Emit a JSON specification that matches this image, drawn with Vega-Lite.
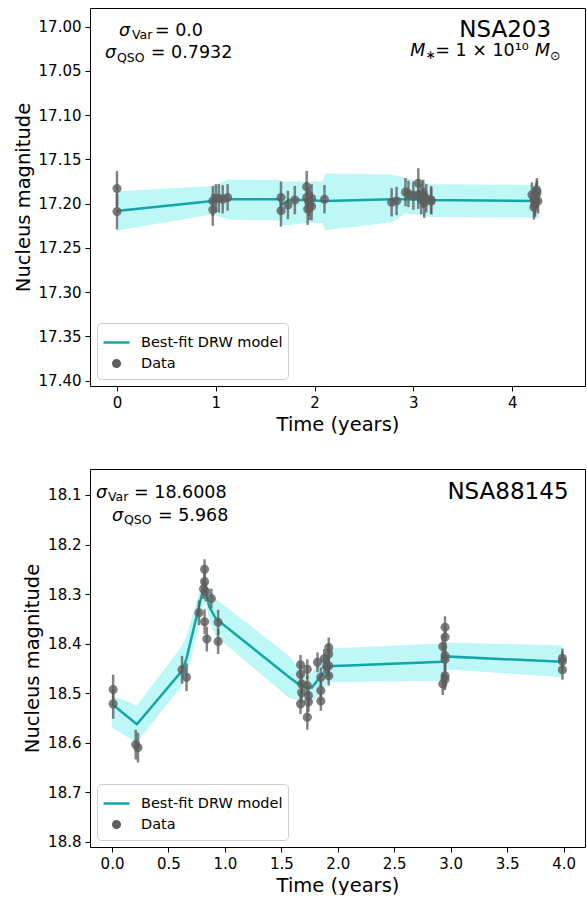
{
  "$schema": "https://vega.github.io/schema/vega-lite/v6.json",
  "padding": {"left": 12, "top": 7, "right": 1, "bottom": 0},
  "background": "white",
  "config": {
    "view": {"stroke": "black", "strokeWidth": 1},
    "axis": {"domain": false, "grid": false, "tickColor": "black", "tickSize": 5, "tickWidth": 1, "labelFont": "DejaVu Sans", "labelFontSize": 15, "labelColor": "black", "labelPadding": 4, "titleFont": "DejaVu Sans", "titleFontSize": 19.5, "titleFontWeight": "normal", "titleColor": "black", "titlePadding": 5},
    "legend": {"orient": "bottom-left", "offset": 7, "title": null, "fillColor": "rgba(255,255,255,0.8)", "strokeColor": "#cccccc", "cornerRadius": 4, "padding": 5, "labelFont": "DejaVu Sans", "labelFontSize": 14.5, "labelColor": "black", "symbolSize": 676, "symbolStrokeWidth": 2.5, "rowPadding": 0, "labelOffset": 10},
    "text": {"font": "DejaVu Sans", "color": "black", "baseline": "alphabetic", "align": "left"}
  },
  "datasets": {
    "top_obs": [
      {"t": 0.00, "mag": 17.183, "lo": 17.163, "hi": 17.203, "series": "Data"},
      {"t": 0.00, "mag": 17.209, "lo": 17.189, "hi": 17.229, "series": "Data"},
      {"t": 0.97, "mag": 17.207, "lo": 17.189, "hi": 17.225, "series": "Data"},
      {"t": 0.97, "mag": 17.197, "lo": 17.180, "hi": 17.214, "series": "Data"},
      {"t": 1.00, "mag": 17.194, "lo": 17.178, "hi": 17.210, "series": "Data"},
      {"t": 1.03, "mag": 17.194, "lo": 17.178, "hi": 17.210, "series": "Data"},
      {"t": 1.07, "mag": 17.195, "lo": 17.179, "hi": 17.211, "series": "Data"},
      {"t": 1.12, "mag": 17.193, "lo": 17.178, "hi": 17.208, "series": "Data"},
      {"t": 1.66, "mag": 17.193, "lo": 17.175, "hi": 17.211, "series": "Data"},
      {"t": 1.66, "mag": 17.208, "lo": 17.190, "hi": 17.226, "series": "Data"},
      {"t": 1.73, "mag": 17.2015, "lo": 17.1855, "hi": 17.2175, "series": "Data"},
      {"t": 1.80, "mag": 17.196, "lo": 17.180, "hi": 17.212, "series": "Data"},
      {"t": 1.92, "mag": 17.181, "lo": 17.163, "hi": 17.199, "series": "Data"},
      {"t": 1.92, "mag": 17.193, "lo": 17.176, "hi": 17.210, "series": "Data"},
      {"t": 1.94, "mag": 17.198, "lo": 17.182, "hi": 17.214, "series": "Data"},
      {"t": 1.95, "mag": 17.2015, "lo": 17.1845, "hi": 17.2185, "series": "Data"},
      {"t": 1.93, "mag": 17.206, "lo": 17.188, "hi": 17.224, "series": "Data"},
      {"t": 1.97, "mag": 17.194, "lo": 17.178, "hi": 17.210, "series": "Data"},
      {"t": 1.97, "mag": 17.203, "lo": 17.187, "hi": 17.219, "series": "Data"},
      {"t": 2.10, "mag": 17.195, "lo": 17.179, "hi": 17.211, "series": "Data"},
      {"t": 2.78, "mag": 17.1985, "lo": 17.1825, "hi": 17.2145, "series": "Data"},
      {"t": 2.83, "mag": 17.197, "lo": 17.181, "hi": 17.213, "series": "Data"},
      {"t": 2.92, "mag": 17.187, "lo": 17.171, "hi": 17.203, "series": "Data"},
      {"t": 2.95, "mag": 17.189, "lo": 17.174, "hi": 17.204, "series": "Data"},
      {"t": 3.00, "mag": 17.191, "lo": 17.175, "hi": 17.207, "series": "Data"},
      {"t": 3.05, "mag": 17.177, "lo": 17.160, "hi": 17.194, "series": "Data"},
      {"t": 3.05, "mag": 17.190, "lo": 17.174, "hi": 17.206, "series": "Data"},
      {"t": 3.08, "mag": 17.195, "lo": 17.178, "hi": 17.212, "series": "Data"},
      {"t": 3.10, "mag": 17.189, "lo": 17.173, "hi": 17.205, "series": "Data"},
      {"t": 3.11, "mag": 17.199, "lo": 17.182, "hi": 17.216, "series": "Data"},
      {"t": 3.13, "mag": 17.194, "lo": 17.178, "hi": 17.210, "series": "Data"},
      {"t": 3.18, "mag": 17.196, "lo": 17.180, "hi": 17.212, "series": "Data"},
      {"t": 3.18, "mag": 17.197, "lo": 17.182, "hi": 17.212, "series": "Data"},
      {"t": 4.20, "mag": 17.190, "lo": 17.176, "hi": 17.204, "series": "Data"},
      {"t": 4.22, "mag": 17.195, "lo": 17.181, "hi": 17.209, "series": "Data"},
      {"t": 4.23, "mag": 17.199, "lo": 17.185, "hi": 17.213, "series": "Data"},
      {"t": 4.24, "mag": 17.191, "lo": 17.177, "hi": 17.205, "series": "Data"},
      {"t": 4.25, "mag": 17.188, "lo": 17.174, "hi": 17.202, "series": "Data"},
      {"t": 4.26, "mag": 17.197, "lo": 17.183, "hi": 17.211, "series": "Data"},
      {"t": 4.23, "mag": 17.201, "lo": 17.187, "hi": 17.215, "series": "Data"},
      {"t": 4.25, "mag": 17.185, "lo": 17.171, "hi": 17.199, "series": "Data"},
      {"t": 4.22, "mag": 17.204, "lo": 17.190, "hi": 17.218, "series": "Data"}
    ],
    "top_model": [
      {"t": 0.00, "mag": 17.209, "lo": 17.165, "hi": 17.232},
      {"t": 0.02, "mag": 17.208, "lo": 17.186, "hi": 17.230},
      {"t": 0.97, "mag": 17.197, "lo": 17.180, "hi": 17.212},
      {"t": 1.12, "mag": 17.195, "lo": 17.173, "hi": 17.218},
      {"t": 1.65, "mag": 17.195, "lo": 17.173, "hi": 17.219},
      {"t": 1.66, "mag": 17.2015, "lo": 17.175, "hi": 17.224},
      {"t": 1.74, "mag": 17.196, "lo": 17.175, "hi": 17.224},
      {"t": 1.92, "mag": 17.196, "lo": 17.175, "hi": 17.222},
      {"t": 2.08, "mag": 17.197, "lo": 17.175, "hi": 17.222},
      {"t": 2.11, "mag": 17.197, "lo": 17.166, "hi": 17.230},
      {"t": 2.78, "mag": 17.195, "lo": 17.167, "hi": 17.221},
      {"t": 2.92, "mag": 17.195, "lo": 17.171, "hi": 17.211},
      {"t": 3.17, "mag": 17.196, "lo": 17.178, "hi": 17.215},
      {"t": 4.28, "mag": 17.197, "lo": 17.179, "hi": 17.216}
    ],
    "top_it": [
      {"t": 0.020, "mag": 17.0103, "text": "σ"},
      {"t": -0.1215, "mag": 17.0354, "text": "σ"},
      {"t": 2.969, "mag": 17.0335, "text": "M"},
      {"t": 4.232, "mag": 17.0335, "text": "M"}
    ],
    "top_sm": [
      {"t": 0.1513, "mag": 17.0142, "text": "Var"},
      {"t": 0.0, "mag": 17.0396, "text": "QSO"},
      {"t": 3.121, "mag": 17.0369, "text": "∗"},
      {"t": 4.384, "mag": 17.0380, "text": "⊙"}
    ],
    "top_nm": [
      {"t": 0.384, "mag": 17.0103, "text": "= 0.0"},
      {"t": 0.343, "mag": 17.0354, "text": "= 0.7932"},
      {"t": 3.222, "mag": 17.0335, "text": "= 1 × 10¹⁰"}
    ],
    "top_big": [
      {"t": 4.394, "mag": 17.0112, "text": "NSA203"}
    ],
    "bot_obs": [
      {"t": 0.01, "mag": 18.493, "lo": 18.463, "hi": 18.523, "series": "Data"},
      {"t": 0.01, "mag": 18.522, "lo": 18.492, "hi": 18.552, "series": "Data"},
      {"t": 0.21, "mag": 18.604, "lo": 18.574, "hi": 18.634, "series": "Data"},
      {"t": 0.23, "mag": 18.610, "lo": 18.580, "hi": 18.640, "series": "Data"},
      {"t": 0.62, "mag": 18.453, "lo": 18.425, "hi": 18.481, "series": "Data"},
      {"t": 0.66, "mag": 18.468, "lo": 18.440, "hi": 18.496, "series": "Data"},
      {"t": 0.77, "mag": 18.338, "lo": 18.313, "hi": 18.363, "series": "Data"},
      {"t": 0.82, "mag": 18.250, "lo": 18.230, "hi": 18.270, "series": "Data"},
      {"t": 0.82, "mag": 18.275, "lo": 18.255, "hi": 18.295, "series": "Data"},
      {"t": 0.81, "mag": 18.290, "lo": 18.270, "hi": 18.310, "series": "Data"},
      {"t": 0.83, "mag": 18.295, "lo": 18.275, "hi": 18.315, "series": "Data"},
      {"t": 0.88, "mag": 18.309, "lo": 18.289, "hi": 18.329, "series": "Data"},
      {"t": 0.82, "mag": 18.356, "lo": 18.331, "hi": 18.381, "series": "Data"},
      {"t": 0.84, "mag": 18.391, "lo": 18.366, "hi": 18.416, "series": "Data"},
      {"t": 0.94, "mag": 18.357, "lo": 18.332, "hi": 18.382, "series": "Data"},
      {"t": 0.94, "mag": 18.396, "lo": 18.371, "hi": 18.421, "series": "Data"},
      {"t": 1.67, "mag": 18.443, "lo": 18.423, "hi": 18.463, "series": "Data"},
      {"t": 1.67, "mag": 18.462, "lo": 18.442, "hi": 18.482, "series": "Data"},
      {"t": 1.68, "mag": 18.482, "lo": 18.462, "hi": 18.502, "series": "Data"},
      {"t": 1.68, "mag": 18.499, "lo": 18.479, "hi": 18.519, "series": "Data"},
      {"t": 1.67, "mag": 18.522, "lo": 18.502, "hi": 18.542, "series": "Data"},
      {"t": 1.73, "mag": 18.452, "lo": 18.432, "hi": 18.472, "series": "Data"},
      {"t": 1.73, "mag": 18.485, "lo": 18.465, "hi": 18.505, "series": "Data"},
      {"t": 1.74, "mag": 18.505, "lo": 18.485, "hi": 18.525, "series": "Data"},
      {"t": 1.74, "mag": 18.518, "lo": 18.498, "hi": 18.538, "series": "Data"},
      {"t": 1.73, "mag": 18.549, "lo": 18.524, "hi": 18.574, "series": "Data"},
      {"t": 1.82, "mag": 18.438, "lo": 18.418, "hi": 18.458, "series": "Data"},
      {"t": 1.85, "mag": 18.468, "lo": 18.448, "hi": 18.488, "series": "Data"},
      {"t": 1.85, "mag": 18.495, "lo": 18.475, "hi": 18.515, "series": "Data"},
      {"t": 1.85, "mag": 18.516, "lo": 18.496, "hi": 18.536, "series": "Data"},
      {"t": 1.88, "mag": 18.431, "lo": 18.411, "hi": 18.451, "series": "Data"},
      {"t": 1.92, "mag": 18.408, "lo": 18.388, "hi": 18.428, "series": "Data"},
      {"t": 1.92, "mag": 18.421, "lo": 18.401, "hi": 18.441, "series": "Data"},
      {"t": 1.92, "mag": 18.445, "lo": 18.425, "hi": 18.465, "series": "Data"},
      {"t": 1.92, "mag": 18.465, "lo": 18.445, "hi": 18.485, "series": "Data"},
      {"t": 1.90, "mag": 18.447, "lo": 18.427, "hi": 18.467, "series": "Data"},
      {"t": 2.95, "mag": 18.367, "lo": 18.345, "hi": 18.389, "series": "Data"},
      {"t": 2.95, "mag": 18.387, "lo": 18.365, "hi": 18.409, "series": "Data"},
      {"t": 2.93, "mag": 18.406, "lo": 18.384, "hi": 18.428, "series": "Data"},
      {"t": 2.95, "mag": 18.425, "lo": 18.403, "hi": 18.447, "series": "Data"},
      {"t": 2.95, "mag": 18.432, "lo": 18.410, "hi": 18.454, "series": "Data"},
      {"t": 2.95, "mag": 18.465, "lo": 18.443, "hi": 18.487, "series": "Data"},
      {"t": 2.95, "mag": 18.472, "lo": 18.450, "hi": 18.494, "series": "Data"},
      {"t": 2.93, "mag": 18.482, "lo": 18.460, "hi": 18.504, "series": "Data"},
      {"t": 3.99, "mag": 18.430, "lo": 18.410, "hi": 18.450, "series": "Data"},
      {"t": 3.99, "mag": 18.436, "lo": 18.416, "hi": 18.456, "series": "Data"},
      {"t": 3.99, "mag": 18.453, "lo": 18.433, "hi": 18.473, "series": "Data"}
    ],
    "bot_model": [
      {"t": 0.00, "mag": 18.522, "lo": 18.505, "hi": 18.570},
      {"t": 0.22, "mag": 18.563, "lo": 18.525, "hi": 18.600},
      {"t": 0.62, "mag": 18.455, "lo": 18.405, "hi": 18.485},
      {"t": 0.66, "mag": 18.430, "lo": 18.385, "hi": 18.470},
      {"t": 0.80, "mag": 18.297, "lo": 18.275, "hi": 18.330},
      {"t": 0.83, "mag": 18.290, "lo": 18.265, "hi": 18.315},
      {"t": 0.86, "mag": 18.325, "lo": 18.290, "hi": 18.355},
      {"t": 0.92, "mag": 18.350, "lo": 18.310, "hi": 18.385},
      {"t": 1.57, "mag": 18.468, "lo": 18.425, "hi": 18.510},
      {"t": 1.67, "mag": 18.485, "lo": 18.455, "hi": 18.515},
      {"t": 1.77, "mag": 18.489, "lo": 18.460, "hi": 18.520},
      {"t": 1.92, "mag": 18.446, "lo": 18.410, "hi": 18.478},
      {"t": 2.93, "mag": 18.437, "lo": 18.400, "hi": 18.475},
      {"t": 2.95, "mag": 18.426, "lo": 18.398, "hi": 18.452},
      {"t": 3.99, "mag": 18.437, "lo": 18.404, "hi": 18.468}
    ],
    "bot_it": [
      {"t": -0.1416, "mag": 18.106, "text": "σ"},
      {"t": 0.0, "mag": 18.1525, "text": "σ"}
    ],
    "bot_sm": [
      {"t": -0.0354, "mag": 18.1131, "text": "Var"},
      {"t": 0.1062, "mag": 18.1596, "text": "QSO"}
    ],
    "bot_nm": [
      {"t": 0.195, "mag": 18.106, "text": "= 18.6008"},
      {"t": 0.407, "mag": 18.1525, "text": "= 5.968"}
    ],
    "bot_big": [
      {"t": 4.044, "mag": 18.108, "text": "NSA88145"}
    ]
  },
  "spacing": 34,
  "resolve": {
    "scale": {"x": "independent", "y": "independent", "fill": "independent", "stroke": "independent", "shape": "independent"},
    "legend": {"fill": "independent", "stroke": "independent", "shape": "independent"}
  },
  "vconcat": [
    {
      "width": 495,
      "height": 378,
      "layer": [
        {
          "data": {"name": "top_model"},
          "mark": {"type": "area", "color": "#bdf7f6", "opacity": 1},
          "encoding": {
            "x": {"field": "t", "type": "quantitative", "scale": {"domain": [-0.273, 4.737], "nice": false, "zero": false}, "axis": {"values": [0, 1, 2, 3, 4], "format": "d", "title": "Time (years)"}},
            "y": {"field": "lo", "type": "quantitative", "scale": {"domain": [16.979, 17.406], "reverse": true, "nice": false, "zero": false}, "axis": {"values": [17.0, 17.05, 17.1, 17.15, 17.2, 17.25, 17.3, 17.35, 17.4], "format": ".2f", "title": "Nucleus magnitude"}},
            "y2": {"field": "hi"}
          }
        },
        {
          "mark": {"type": "rule", "color": "#6f6f6f", "strokeWidth": 1.3},
          "encoding": {"y": {"datum": 17.196, "type": "quantitative"}}
        },
        {
          "data": {"name": "top_model"},
          "mark": {"type": "line", "color": "#12a6a6", "strokeWidth": 2.5},
          "encoding": {
            "x": {"field": "t", "type": "quantitative"},
            "y": {"field": "mag", "type": "quantitative"}
          }
        },
        {
          "data": {"name": "top_obs"},
          "mark": {"type": "rule", "color": "#5a5a5a", "opacity": 0.75, "strokeWidth": 2.5},
          "encoding": {
            "x": {"field": "t", "type": "quantitative"},
            "y": {"field": "lo", "type": "quantitative"},
            "y2": {"field": "hi"}
          }
        },
        {
          "data": {"name": "top_obs"},
          "mark": {"type": "point", "filled": true, "size": 676, "fillOpacity": 0.8, "strokeWidth": 2.5},
          "encoding": {
            "x": {"field": "t", "type": "quantitative"},
            "y": {"field": "mag", "type": "quantitative"},
            "fill": {"field": "series", "type": "nominal", "scale": {"domain": ["Best-fit DRW model", "Data"], "range": ["#12a6a6", "#5e5e5e"]}},
            "stroke": {"field": "series", "type": "nominal", "scale": {"domain": ["Best-fit DRW model", "Data"], "range": ["#12a6a6", "transparent"]}},
            "shape": {"field": "series", "type": "nominal", "scale": {"domain": ["Best-fit DRW model", "Data"], "range": ["stroke", "M-0.35,0A0.35,0.35 0 1,0 0.35,0A0.35,0.35 0 1,0 -0.35,0Z"]}}
          }
        },
        {
          "data": {"name": "top_it"},
          "mark": {"type": "text", "fontSize": 17.5, "fontStyle": "italic"},
          "encoding": {"x": {"field": "t", "type": "quantitative"}, "y": {"field": "mag", "type": "quantitative"}, "text": {"field": "text"}}
        },
        {
          "data": {"name": "top_sm"},
          "mark": {"type": "text", "fontSize": 12.5},
          "encoding": {"x": {"field": "t", "type": "quantitative"}, "y": {"field": "mag", "type": "quantitative"}, "text": {"field": "text"}}
        },
        {
          "data": {"name": "top_nm"},
          "mark": {"type": "text", "fontSize": 17.5},
          "encoding": {"x": {"field": "t", "type": "quantitative"}, "y": {"field": "mag", "type": "quantitative"}, "text": {"field": "text"}}
        },
        {
          "data": {"name": "top_big"},
          "mark": {"type": "text", "fontSize": 23, "align": "right"},
          "encoding": {"x": {"field": "t", "type": "quantitative"}, "y": {"field": "mag", "type": "quantitative"}, "text": {"field": "text"}}
        }
      ]
    },
    {
      "width": 495,
      "height": 378,
      "layer": [
        {
          "data": {"name": "bot_model"},
          "mark": {"type": "area", "color": "#bdf7f6", "opacity": 1},
          "encoding": {
            "x": {"field": "t", "type": "quantitative", "scale": {"domain": [-0.195, 4.19], "nice": false, "zero": false}, "axis": {"values": [0, 0.5, 1, 1.5, 2, 2.5, 3, 3.5, 4], "format": ".1f", "title": "Time (years)"}},
            "y": {"field": "lo", "type": "quantitative", "scale": {"domain": [18.0475, 18.811], "reverse": true, "nice": false, "zero": false}, "axis": {"values": [18.1, 18.2, 18.3, 18.4, 18.5, 18.6, 18.7, 18.8], "format": ".1f", "title": "Nucleus magnitude"}},
            "y2": {"field": "hi"}
          }
        },
        {
          "mark": {"type": "rule", "color": "#6f6f6f", "strokeWidth": 1.3},
          "encoding": {"y": {"datum": 18.455, "type": "quantitative"}}
        },
        {
          "data": {"name": "bot_model"},
          "mark": {"type": "line", "color": "#12a6a6", "strokeWidth": 2.5},
          "encoding": {
            "x": {"field": "t", "type": "quantitative"},
            "y": {"field": "mag", "type": "quantitative"}
          }
        },
        {
          "data": {"name": "bot_obs"},
          "mark": {"type": "rule", "color": "#5a5a5a", "opacity": 0.75, "strokeWidth": 2.5},
          "encoding": {
            "x": {"field": "t", "type": "quantitative"},
            "y": {"field": "lo", "type": "quantitative"},
            "y2": {"field": "hi"}
          }
        },
        {
          "data": {"name": "bot_obs"},
          "mark": {"type": "point", "filled": true, "size": 676, "fillOpacity": 0.8, "strokeWidth": 2.5},
          "encoding": {
            "x": {"field": "t", "type": "quantitative"},
            "y": {"field": "mag", "type": "quantitative"},
            "fill": {"field": "series", "type": "nominal", "scale": {"domain": ["Best-fit DRW model", "Data"], "range": ["#12a6a6", "#5e5e5e"]}},
            "stroke": {"field": "series", "type": "nominal", "scale": {"domain": ["Best-fit DRW model", "Data"], "range": ["#12a6a6", "transparent"]}},
            "shape": {"field": "series", "type": "nominal", "scale": {"domain": ["Best-fit DRW model", "Data"], "range": ["stroke", "M-0.35,0A0.35,0.35 0 1,0 0.35,0A0.35,0.35 0 1,0 -0.35,0Z"]}}
          }
        },
        {
          "data": {"name": "bot_it"},
          "mark": {"type": "text", "fontSize": 17.5, "fontStyle": "italic"},
          "encoding": {"x": {"field": "t", "type": "quantitative"}, "y": {"field": "mag", "type": "quantitative"}, "text": {"field": "text"}}
        },
        {
          "data": {"name": "bot_sm"},
          "mark": {"type": "text", "fontSize": 12.5},
          "encoding": {"x": {"field": "t", "type": "quantitative"}, "y": {"field": "mag", "type": "quantitative"}, "text": {"field": "text"}}
        },
        {
          "data": {"name": "bot_nm"},
          "mark": {"type": "text", "fontSize": 17.5},
          "encoding": {"x": {"field": "t", "type": "quantitative"}, "y": {"field": "mag", "type": "quantitative"}, "text": {"field": "text"}}
        },
        {
          "data": {"name": "bot_big"},
          "mark": {"type": "text", "fontSize": 23, "align": "right"},
          "encoding": {"x": {"field": "t", "type": "quantitative"}, "y": {"field": "mag", "type": "quantitative"}, "text": {"field": "text"}}
        }
      ]
    }
  ]
}
